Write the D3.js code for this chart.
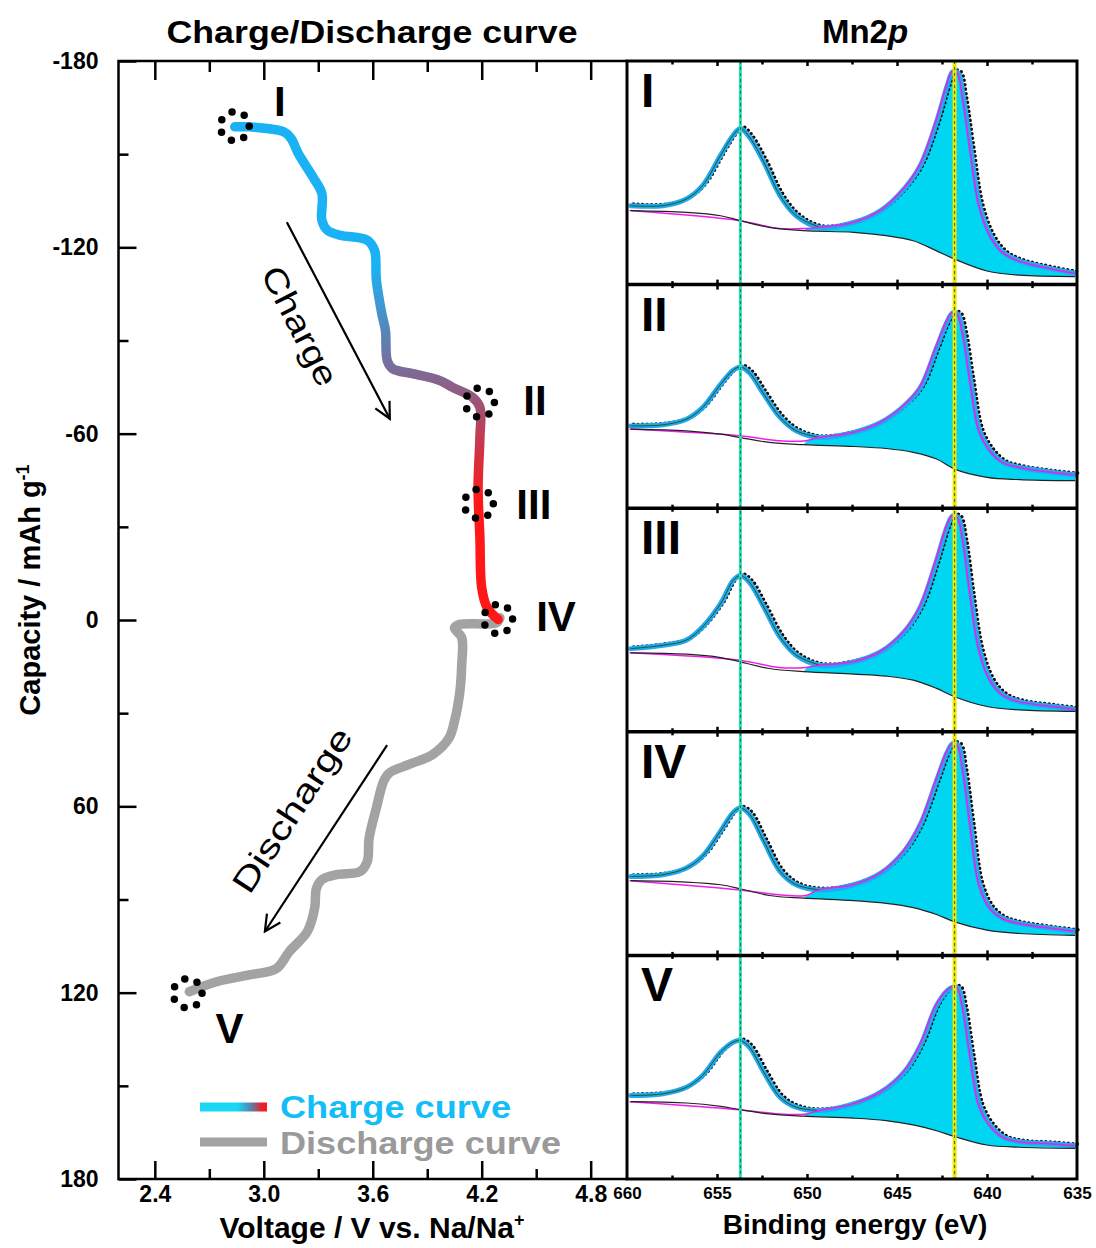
<!DOCTYPE html>
<html><head><meta charset="utf-8">
<script src="https://cdn.jsdelivr.net/npm/d3@7"></script>
<style>
body{margin:0;background:#fff}
svg{display:block;font-family:"Liberation Sans",Arial,Helvetica,sans-serif}
</style>
</head><body>
<svg id="c" width="1096" height="1248"></svg>
<script>
// ---------------- DATA ----------------
// Charge / discharge curve (Voltage V, Capacity mAh/g)
const chargeV   = [2.84, 2.92, 3.11, 3.15, 3.19, 3.27, 3.32, 3.32, 3.35, 3.42, 3.57, 3.61, 3.62, 3.65, 3.67, 3.68, 3.71, 3.82, 3.97, 4.04, 4.15, 4.19, 4.19, 4.18, 4.19, 4.20, 4.23, 4.29];
const chargeCap = [-158.8, -158.8, -157.2, -155.1, -150.2, -142.7, -137.3, -128.7, -125.5, -123.9, -122.3, -119, -109.4, -98.6, -93.2, -83.5, -80.9, -79.3, -77.1, -74.9, -71.7, -68.5, -58.8, -42.7, -26.5, -10.4, -4, -0.2];
const dischargeV   = [4.30, 4.28, 4.08, 4.05, 4.09, 4.09, 4.08, 4.05, 4.02, 3.93, 3.80, 3.69, 3.66, 3.62, 3.58, 3.57, 3.53, 3.40, 3.32, 3.29, 3.28, 3.24, 3.14, 3.07, 2.92, 2.74, 2.59];
const dischargeCap = [-0.7, 0.9, 1.4, 2.5, 5.7, 14.3, 22.9, 32.6, 38, 43.3, 46.5, 49.3, 51.9, 60.5, 70.2, 77.7, 81, 82, 83.6, 86.4, 92.8, 100.3, 106.8, 112.2, 114.3, 116.5, 119.7];
const voltTicks = [2.4, 3.0, 3.6, 4.2, 4.8];
const voltMinor = [2.7, 3.3, 3.9, 4.5];
const capTicks  = [-180, -120, -60, 0, 60, 120, 180];
const capMinor  = [-150, -90, -30, 30, 90, 150];
const stateLabels = ["I", "II", "III", "IV", "V"];
const markerV   = [2.84, 4.19, 4.184, 4.29, 2.58];
const markerCap = [-159, -70, -37.4, -0.3, 120.2];

// Mn2p XPS spectra (binding energy eV, normalized intensity 0-100 in each panel)
const beTicks = [660, 655, 650, 645, 640, 635];
const beMinor = [657.5, 652.5, 647.5, 642.5, 637.5];
const envEV = [659.8, 658.0, 656.7, 655.8, 654.8, 654.1, 653.7, 653.2, 652.4, 651.5, 650.6, 649.3, 647.4, 645.9, 644.6, 643.7, 642.8, 642.2, 641.9, 641.6, 641.3, 640.9, 640.4, 639.8, 639.1, 638.2, 636.3, 635.1];
const envI   = [35.3, 35.3, 38.3, 44.3, 57.8, 66.8, 69.8, 66.0, 54.8, 39.8, 30.8, 25.6, 27.8, 33.1, 42.8, 53.3, 72.8, 89.2, 95.2, 94.5, 83.1, 60.8, 35.3, 21.9, 14.4, 10.6, 6.9, 5.1];
const envII  = [36.8, 37.3, 39.8, 45.0, 55.4, 61.7, 63.2, 60.6, 51.0, 40.6, 34.6, 31.6, 33.9, 38.3, 45.8, 53.9, 71.8, 83.7, 87.4, 86.6, 77.7, 56.9, 34.6, 25.7, 20.5, 18.3, 16.0, 15.0];
const envIII = [37.2, 38.7, 41.0, 46.9, 57.3, 67.7, 69.9, 66.9, 55.8, 42.4, 34.3, 29.8, 31.3, 35.8, 44.7, 55.8, 76.6, 92.1, 96.6, 95.8, 85.5, 61.7, 36.5, 23.1, 16.5, 13.5, 11.3, 10.1];
const envIV  = [35.3, 36.1, 39.1, 44.4, 55.6, 63.9, 65.9, 63.2, 51.1, 37.6, 31.6, 29.3, 31.6, 36.8, 46.6, 58.6, 78.2, 91.0, 94.7, 94.0, 82.7, 58.6, 31.6, 21.1, 16.5, 14.3, 12.0, 10.8];
const envV   = [37.3, 38.1, 41.0, 46.3, 56.7, 61.2, 61.9, 59.0, 47.8, 36.6, 32.1, 30.6, 33.6, 38.8, 47.8, 59.7, 77.6, 84.3, 85.8, 85.4, 76.1, 55.2, 32.8, 23.9, 18.7, 16.7, 15.7, 14.9];
const bgEV  = [659.8, 656.7, 654.8, 653.7, 652.1, 650.2, 647.4, 645.6, 644.1, 642.8, 641.8, 640.0, 638.2, 635.1];
const bgI   = [33.1, 32.3, 30.8, 28.6, 25.6, 24.1, 23.4, 21.9, 19.6, 15.1, 11.4, 6.1, 4.2, 3.6];
const bgII  = [35.4, 34.6, 33.1, 31.6, 29.4, 28.4, 27.6, 26.7, 25.0, 22.0, 17.5, 13.8, 12.8, 12.3];
const bgIII = [35.3, 34.7, 33.2, 31.3, 28.3, 26.9, 25.8, 24.9, 23.1, 19.4, 15.7, 11.3, 9.8, 9.1];
const bgIV  = [33.4, 32.8, 31.6, 29.8, 26.8, 25.6, 24.5, 23.3, 21.4, 18.3, 15.0, 11.3, 9.8, 9.0];
const bgV   = [34.6, 34.0, 32.5, 31.0, 29.1, 28.1, 27.2, 26.1, 24.2, 21.6, 19.0, 15.2, 14.2, 13.7];
const magEV  = [659.8, 653.7, 651.5, 650.0];
const magI   = [33.1, 28.6, 25.1, 25.1];
const magII  = [35.4, 32.4, 30.2, 30.2];
const magIII = [35.3, 32.0, 28.8, 28.8];
const magIV  = [33.4, 29.3, 27.1, 26.8];
const magV   = [34.6, 31.0, 29.1, 29.1];
const peakLines = [653.7, 641.8];

// ---------------- DRAW ----------------
const svg = d3.select("#c");
const L = {x0: 118.5, x1: 627, y0: 61, y1: 1179};
const x = d3.scaleLinear().domain([2.2, 5.0]).range([L.x0, L.x1]);
const y = d3.scaleLinear().domain([-180, 180]).range([L.y0, L.y1]);

const defs = svg.append("defs");
const cg = defs.append("linearGradient").attr("id", "chg").attr("gradientUnits", "userSpaceOnUse")
  .attr("x1", 0).attr("x2", 0).attr("y1", y(-114)).attr("y2", y(-38));
[[0, "#1ab2f4"], [0.45, "#7d6a96"], [0.75, "#c8384c"], [1, "#ff1818"]].forEach(s =>
  cg.append("stop").attr("offset", s[0]).attr("stop-color", s[1]));
const lg = defs.append("linearGradient").attr("id", "leg").attr("gradientUnits", "userSpaceOnUse")
  .attr("x1", 200).attr("x2", 267).attr("y1", 0).attr("y2", 0);
[[0, "#1ad8f4"], [0.55, "#1ad8f4"], [0.75, "#4a8ab4"], [0.93, "#ee1c24"], [1, "#ee1c24"]].forEach(s =>
  lg.append("stop").attr("offset", s[0]).attr("stop-color", s[1]));
defs.append("marker").attr("id", "arr").attr("viewBox", "0 0 20 20").attr("refX", 18).attr("refY", 10)
  .attr("markerWidth", 20).attr("markerHeight", 20).attr("markerUnits", "userSpaceOnUse").attr("orient", "auto")
  .append("path").attr("d", "M2,2 L18,10 L2,18").attr("fill", "none").attr("stroke", "#000").attr("stroke-width", 2.2);

function styleAxis(g, fs) {
  g.select(".domain").remove();
  g.selectAll(".tick line").attr("stroke", "#000").attr("stroke-width", 2.5);
  g.selectAll(".tick text").attr("font-size", fs).attr("font-weight", "bold").attr("fill", "#000");
}
const plain = d => String(d);

// Left chart axes
styleAxis(svg.append("g").attr("transform", `translate(0,${L.y1})`)
  .call(d3.axisBottom(x).tickValues(voltTicks).tickFormat(d3.format(".1f")).tickSize(-18).tickPadding(7)), 23);
styleAxis(svg.append("g").attr("transform", `translate(0,${L.y1})`)
  .call(d3.axisBottom(x).tickValues(voltMinor).tickFormat("").tickSize(-10)), 23);
styleAxis(svg.append("g").attr("transform", `translate(0,${L.y0})`)
  .call(d3.axisTop(x).tickValues(voltTicks).tickFormat("").tickSize(-19)), 23);
styleAxis(svg.append("g").attr("transform", `translate(0,${L.y0})`)
  .call(d3.axisTop(x).tickValues(voltMinor).tickFormat("").tickSize(-11)), 23);
styleAxis(svg.append("g").attr("transform", `translate(${L.x0},0)`)
  .call(d3.axisLeft(y).tickValues(capTicks).tickFormat(plain).tickSize(-18).tickPadding(20)), 23);
styleAxis(svg.append("g").attr("transform", `translate(${L.x0},0)`)
  .call(d3.axisLeft(y).tickValues(capMinor).tickFormat("").tickSize(-10)), 23);
svg.append("path").attr("d", `M${L.x1},${L.y0}H${L.x0}V${L.y1}H${L.x1}`)
  .attr("fill", "none").attr("stroke", "#000").attr("stroke-width", 2.5);

// Curves
const cl = d3.line().x(d => x(d[0])).y(d => y(d[1])).curve(d3.curveCatmullRom.alpha(0.5));
svg.append("path").datum(dischargeV.map((v, i) => [v, dischargeCap[i]])).attr("d", cl)
  .attr("fill", "none").attr("stroke", "#a3a3a3").attr("stroke-width", 9.5)
  .attr("stroke-linecap", "round").attr("stroke-linejoin", "round");
svg.append("path").datum(chargeV.map((v, i) => [v, chargeCap[i]])).attr("d", cl)
  .attr("fill", "none").attr("stroke", "url(#chg)").attr("stroke-width", 9.5)
  .attr("stroke-linecap", "round").attr("stroke-linejoin", "round");

// Markers (dotted rings)
markerV.forEach((v, i) => {
  svg.append("circle").attr("cx", x(v)).attr("cy", y(markerCap[i])).attr("r", 14.5)
    .attr("fill", "none").attr("stroke", "#000").attr("stroke-width", 7.5)
    .attr("stroke-dasharray", "0 13.02").attr("stroke-linecap", "round");
});
const labOff = [[45, -10], [55, 12], [55, 15], [58, 12], [42, 50]];
stateLabels.forEach((s, i) => {
  svg.append("text").attr("x", x(markerV[i]) + labOff[i][0]).attr("y", y(markerCap[i]) + labOff[i][1])
    .attr("text-anchor", "middle").attr("font-size", 42).attr("font-weight", "bold").text(s);
});

// Arrows + labels
svg.append("line").attr("x1", x(3.127)).attr("y1", y(-128.1)).attr("x2", x(3.694)).attr("y2", y(-64.8))
  .attr("stroke", "#000").attr("stroke-width", 2.2).attr("marker-end", "url(#arr)");
svg.append("line").attr("x1", x(3.679)).attr("y1", y(40.3)).attr("x2", x(3.006)).attr("y2", y(100.3))
  .attr("stroke", "#000").attr("stroke-width", 2.2).attr("marker-end", "url(#arr)");
svg.append("text").attr("transform", "translate(300,326) rotate(63)").attr("text-anchor", "middle")
  .attr("dy", "0.35em").attr("font-size", 33).attr("textLength", 130).attr("lengthAdjust", "spacingAndGlyphs").text("Charge");
svg.append("text").attr("transform", "translate(292,810) rotate(-56.7)").attr("text-anchor", "middle")
  .attr("dy", "0.35em").attr("font-size", 33).attr("textLength", 190).attr("lengthAdjust", "spacingAndGlyphs").text("Discharge");

// Legend
svg.append("line").attr("x1", 200).attr("x2", 267).attr("y1", 1107).attr("y2", 1107)
  .attr("stroke", "url(#leg)").attr("stroke-width", 9);
svg.append("line").attr("x1", 200).attr("x2", 267).attr("y1", 1142).attr("y2", 1142)
  .attr("stroke", "#a3a3a3").attr("stroke-width", 9);
svg.append("text").attr("x", 280).attr("y", 1118).attr("font-size", 31).attr("font-weight", "bold")
  .attr("fill", "#12bdf8").attr("textLength", 231).attr("lengthAdjust", "spacingAndGlyphs").text("Charge curve");
svg.append("text").attr("x", 280).attr("y", 1154).attr("font-size", 31).attr("font-weight", "bold")
  .attr("fill", "#9a9a9a").attr("textLength", 281).attr("lengthAdjust", "spacingAndGlyphs").text("Discharge curve");

// Titles
svg.append("text").attr("x", 372).attr("y", 43).attr("text-anchor", "middle").attr("font-size", 32)
  .attr("font-weight", "bold").attr("textLength", 411).attr("lengthAdjust", "spacingAndGlyphs").text("Charge/Discharge curve");
const mt = svg.append("text").attr("x", 865).attr("y", 43).attr("text-anchor", "middle").attr("font-size", 33).attr("font-weight", "bold");
mt.append("tspan").text("Mn2");
mt.append("tspan").attr("font-style", "italic").text("p");

const xt = svg.append("text").attr("x", 372).attr("y", 1238).attr("text-anchor", "middle").attr("font-size", 30).attr("font-weight", "bold");
xt.append("tspan").text("Voltage / V vs. Na/Na");
xt.append("tspan").attr("dy", -12).attr("font-size", 18).text("+");
const yt = svg.append("text").attr("transform", "translate(40,590) rotate(-90)").attr("text-anchor", "middle").attr("font-size", 29).attr("font-weight", "bold");
yt.append("tspan").text("Capacity / mAh g");
yt.append("tspan").attr("dy", -11).attr("font-size", 18).text("-1");

// ---------------- Right: XPS panels ----------------
const R = {x0: 627, x1: 1077, y0: 61, y1: 1179};
const xb = d3.scaleLinear().domain([660, 635]).range([R.x0, R.x1]);
const ph = (R.y1 - R.y0) / 5;
const envs = [envI, envII, envIII, envIV, envV];
const bgs = [bgI, bgII, bgIII, bgIV, bgV];
const mags = [magI, magII, magIII, magIV, magV];

envs.forEach((env, i) => {
  const top = R.y0 + i * ph, bot = top + ph;
  const ys = d3.scaleLinear().domain([0, 100]).range([bot, top]);
  const ln = d3.line().x(d => xb(d[0])).y(d => ys(d[1])).curve(d3.curveCatmullRom.alpha(0.5));
  const envPts = envEV.map((e, k) => [e, env[k]]);
  const bgPts = bgEV.map((e, k) => [e, bgs[i][k]]);
  const magPts = magEV.map((e, k) => [e, mags[i][k]]).concat(envPts.slice(11));
  const g = svg.append("g");
  // filled 2p3/2 component
  const topPath = ln(magPts.slice(3));
  const botPath = ln(bgPts.slice(5).reverse());
  g.append("path").attr("d", topPath + "L" + botPath.slice(1) + "Z").attr("fill", "#00d6f2");
  // black data dots (behind, slightly offset)
  g.append("path").attr("d", ln(envPts)).attr("transform", "translate(3,-1.5)").attr("fill", "none")
    .attr("stroke", "#111").attr("stroke-width", 3.6).attr("stroke-dasharray", "0 4.5").attr("stroke-linecap", "round");
  // experimental (blue)
  g.append("path").attr("d", ln(envPts)).attr("fill", "none").attr("stroke", "#22a8f0").attr("stroke-width", 5)
    .attr("stroke-linejoin", "round").attr("stroke-linecap", "round");
  // 2p1/2 fit (dark green)
  g.append("path").attr("d", ln(envPts.slice(0, 12))).attr("fill", "none").attr("stroke", "#1c5a1c").attr("stroke-width", 1);
  // magenta fit
  g.append("path").attr("d", ln(magPts)).attr("transform", "translate(-1,0)").attr("fill", "none").attr("stroke", "#ee1ee8").attr("stroke-width", 1.5);
  // background
  g.append("path").attr("d", ln(bgPts)).attr("fill", "none").attr("stroke", "#222").attr("stroke-width", 1.2);
  // ticks
  [[d3.axisBottom, bot], [d3.axisTop, top]].forEach(([ax, yy]) => {
    styleAxis(svg.append("g").attr("transform", `translate(0,${yy})`)
      .call(ax(xb).tickValues(beTicks.slice(1, 5)).tickFormat("").tickSize(-5)), 17);
    styleAxis(svg.append("g").attr("transform", `translate(0,${yy})`)
      .call(ax(xb).tickValues(beMinor).tickFormat("").tickSize(-3.5)), 17);
  });
  svg.append("text").attr("x", 641).attr("y", top + 46).attr("font-size", 48).attr("font-weight", "bold").text(stateLabels[i]);
});

// peak position lines
const plc = [["#2ee0b4", "#17705a", 3], ["#e8e800", "#5a5a00", 4]];
peakLines.forEach((e, k) => {
  svg.append("line").attr("x1", xb(e)).attr("x2", xb(e)).attr("y1", R.y0).attr("y2", R.y1)
    .attr("stroke", plc[k][0]).attr("stroke-width", plc[k][2]);
  svg.append("line").attr("x1", xb(e)).attr("x2", xb(e)).attr("y1", R.y0).attr("y2", R.y1)
    .attr("stroke", plc[k][1]).attr("stroke-width", 1).attr("stroke-dasharray", "3 3");
});

// panel frames
for (let i = 1; i < 5; i++) {
  svg.append("line").attr("x1", R.x0).attr("x2", R.x1).attr("y1", R.y0 + i * ph).attr("y2", R.y0 + i * ph)
    .attr("stroke", "#000").attr("stroke-width", 3.5);
}
svg.append("rect").attr("x", R.x0).attr("y", R.y0).attr("width", R.x1 - R.x0).attr("height", R.y1 - R.y0)
  .attr("fill", "none").attr("stroke", "#000").attr("stroke-width", 3);

// bottom tick labels for binding energy
const ba = svg.append("g").attr("transform", `translate(0,${R.y1})`)
  .call(d3.axisBottom(xb).tickValues(beTicks).tickFormat(d3.format("d")).tickSize(0).tickPadding(8));
styleAxis(ba, 17);
svg.append("text").attr("x", 855).attr("y", 1234).attr("text-anchor", "middle").attr("font-size", 28)
  .attr("font-weight", "bold").text("Binding energy (eV)");
</script>
</body></html>
